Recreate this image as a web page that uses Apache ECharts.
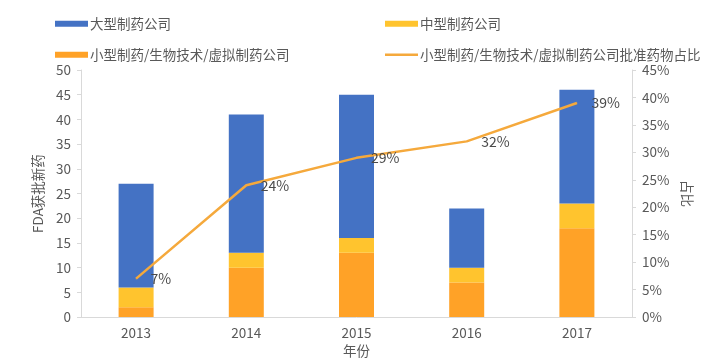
<!DOCTYPE html>
<html><head><meta charset="utf-8">
<script src="https://cdn.jsdelivr.net/npm/echarts@6/dist/echarts.min.js"></script>
<style>html,body{margin:0;padding:0;background:#fff}#c{width:708px;height:363px}</style>
</head><body><div id="c"></div>
<script>
const years = ['2013','2014','2015','2016','2017'];
const large = [21, 28, 29, 12, 23];
const medium = [4, 3, 3, 3, 5];
const small = [2, 10, 13, 7, 18];
const ratio = [7, 24, 29, 32, 39];
const leftTicks = {min:0, max:50, interval:5};
const rightTicks = {min:0, max:45, interval:5};

const txt = '#595959';
const font = '"Noto Sans CJK SC", "Noto Sans", sans-serif';
const chart = echarts.init(document.getElementById('c'));
const legendBase = {itemWidth:33, itemHeight:6, textStyle:{color:txt, fontSize:13.5, fontFamily:font, padding:[0,0,0,-3]}, itemGap:0};
chart.setOption({
  textStyle:{fontFamily:font},
  legend:[
    Object.assign({left:50, top:12, data:[{name:'大型制药公司', icon:'rect'}]}, legendBase),
    Object.assign({left:380, top:12, data:[{name:'中型制药公司', icon:'rect'}]}, legendBase),
    Object.assign({left:50, top:43, data:[{name:'小型制药/生物技术/虚拟制药公司', icon:'rect'}]}, legendBase),
    Object.assign({left:380, top:43, data:[{name:'小型制药/生物技术/虚拟制药公司批准药物占比', icon:'rect'}]}, legendBase, {itemHeight:2.5})
  ],
  grid:{left:81, right:76, top:70, bottom:45},
  xAxis:{type:'category', data:years, name:'年份', nameLocation:'middle', nameGap:27,
    nameTextStyle:{color:txt, fontSize:13.5},
    axisLine:{lineStyle:{color:'#d9d9d9'}}, axisTick:{show:false},
    axisLabel:{color:txt, fontSize:13.5, margin:9}},
  yAxis:[
    {type:'value', min:leftTicks.min, max:leftTicks.max, interval:leftTicks.interval,
      name:'FDA获批新药', nameLocation:'middle', nameGap:36, nameTextStyle:{color:txt, fontSize:13.5},
      axisLine:{show:true, lineStyle:{color:'#d9d9d9'}}, axisTick:{show:true, length:4, lineStyle:{color:'#d9d9d9'}},
      splitLine:{show:false}, axisLabel:{color:txt, fontSize:13.5, margin:10}},
    {type:'value', min:rightTicks.min, max:rightTicks.max, interval:rightTicks.interval,
      name:'占比', nameLocation:'middle', nameGap:46, nameRotate:-90, nameTextStyle:{color:txt, fontSize:13.5},
      axisLine:{show:true, lineStyle:{color:'#d9d9d9'}}, axisTick:{show:true, length:4, lineStyle:{color:'#d9d9d9'}},
      splitLine:{show:false}, axisLabel:{color:txt, fontSize:13.5, margin:10, formatter:'{value}%'}}
  ],
  series:[
    {name:'小型制药/生物技术/虚拟制药公司', type:'bar', stack:'a', data:small, barWidth:35, itemStyle:{color:'#ffa227'}},
    {name:'中型制药公司', type:'bar', stack:'a', data:medium, itemStyle:{color:'#ffc42e'}},
    {name:'大型制药公司', type:'bar', stack:'a', data:large, itemStyle:{color:'#4472c4'}},
    {name:'小型制药/生物技术/虚拟制药公司批准药物占比', type:'line', yAxisIndex:1, data:ratio,
      symbol:'circle', symbolSize:1, showSymbol:true, lineStyle:{color:'#f5a93c', width:2.5}, itemStyle:{color:'#f5a93c'},
      label:{show:true, position:'right', formatter:'{c}%', color:'#4a4a4a', fontSize:14, distance:14}}
  ]
});
</script></body></html>
